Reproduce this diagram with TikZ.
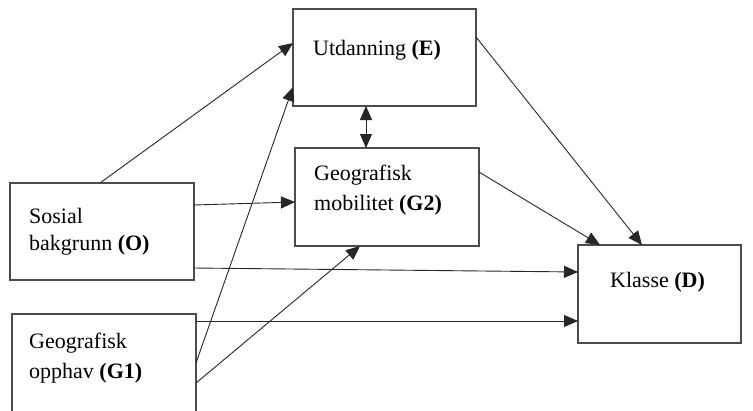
\documentclass[tikz,border=0pt]{standalone}
\usepackage{fontspec}
\setmainfont{Liberation Serif}
\usetikzlibrary{arrows.meta,calc}

\begin{document}
\begin{tikzpicture}[x=1pt,y=-1pt,
  box/.style={draw=black!70,line width=1.3pt,rectangle,inner sep=0pt,outer sep=0pt},
  txt/.style={anchor=base west,inner sep=0pt,font=\fontsize{22}{29}\selectfont},
  tip/.style={Triangle[length=14pt,width=12pt]},
  link/.style={draw=black!85,line width=0.9pt,-{Triangle[length=14pt,width=12pt]}},
  both/.style={draw=black!85,line width=0.9pt,{Triangle[length=14pt,width=12pt]}-{Triangle[length=14pt,width=12pt]}}]
  \useasboundingbox (0,0) rectangle (753,410);

  % boxes
  \node[box,minimum width=184pt,minimum height=97pt] (O)  at (102,231.5) {};
  \node[box,minimum width=184pt,minimum height=100pt] (G1) at (104,364) {};
  \node[box,minimum width=183pt,minimum height=97pt] (E)  at (384.5,57.5) {};
  \node[box,minimum width=184pt,minimum height=98pt] (G2) at (387,197) {};
  \node[box,minimum width=163pt,minimum height=98pt] (D)  at (659.5,294) {};

  % labels
  \node[txt] (tE)   at (313,55)  {Utdanning \textbf{(E)}};
  \node[txt] (tG2a) at (314,180) {Geografisk};
  \node[txt] (tG2b) at (314,210) {mobilitet \textbf{(G2)}};
  \node[txt] (tOa)  at (29,223)  {Sosial};
  \node[txt] (tOb)  at (29,250)  {bakgrunn \textbf{(O)}};
  \node[txt] (tG1a) at (29,348)  {Geografisk};
  \node[txt] (tG1b) at (29,378)  {opphav \textbf{(G1)}};
  \node[txt] (tD)   at (610,287) {Klasse \textbf{(D)}};

  % connector end points on the box edges
  \coordinate (o1)  at ($(O.north west)+(90,0)$);
  \coordinate (o2)  at ($(O.north east)+(0,22)$);
  \coordinate (o3)  at ($(O.north east)+(0,85)$);
  \coordinate (g1)  at ($(G1.north east)+(0,7)$);
  \coordinate (g2)  at ($(G1.north east)+(0,49)$);
  \coordinate (g3)  at ($(G1.north east)+(0,69)$);
  \coordinate (e1)  at ($(E.north west)+(0,34)$);
  \coordinate (e2)  at ($(E.north west)+(0,78)$);
  \coordinate (e3)  at ($(E.north east)+(0,28)$);
  \coordinate (e4)  at ($(E.south west)+(73,0)$);
  \coordinate (m1)  at ($(G2.north west)+(0,54)$);
  \coordinate (m2)  at ($(G2.south west)+(65,0)$);
  \coordinate (m3)  at ($(G2.north east)+(0,24)$);
  \coordinate (m4)  at ($(G2.north west)+(71,0)$);
  \coordinate (d1)  at ($(D.north west)+(0,27)$);
  \coordinate (d2)  at ($(D.north west)+(0,76)$);
  \coordinate (d3)  at ($(D.north west)+(22,0)$);
  \coordinate (d4)  at ($(D.north west)+(64,0)$);

  % connectors
  \draw[link] (o1) -- (e1);
  \draw[link] (g2) -- (e2);
  \draw[link] (g3) -- (m2);
  \draw[link] (o2) -- (m1);
  \draw[link] (o3) -- (d1);
  \draw[link] (g1) -- (d2);
  \draw[link] (e3) -- (d4);
  \draw[link] (m3) -- (d3);
  \draw[both] (e4) -- (m4);
\end{tikzpicture}
\end{document}
